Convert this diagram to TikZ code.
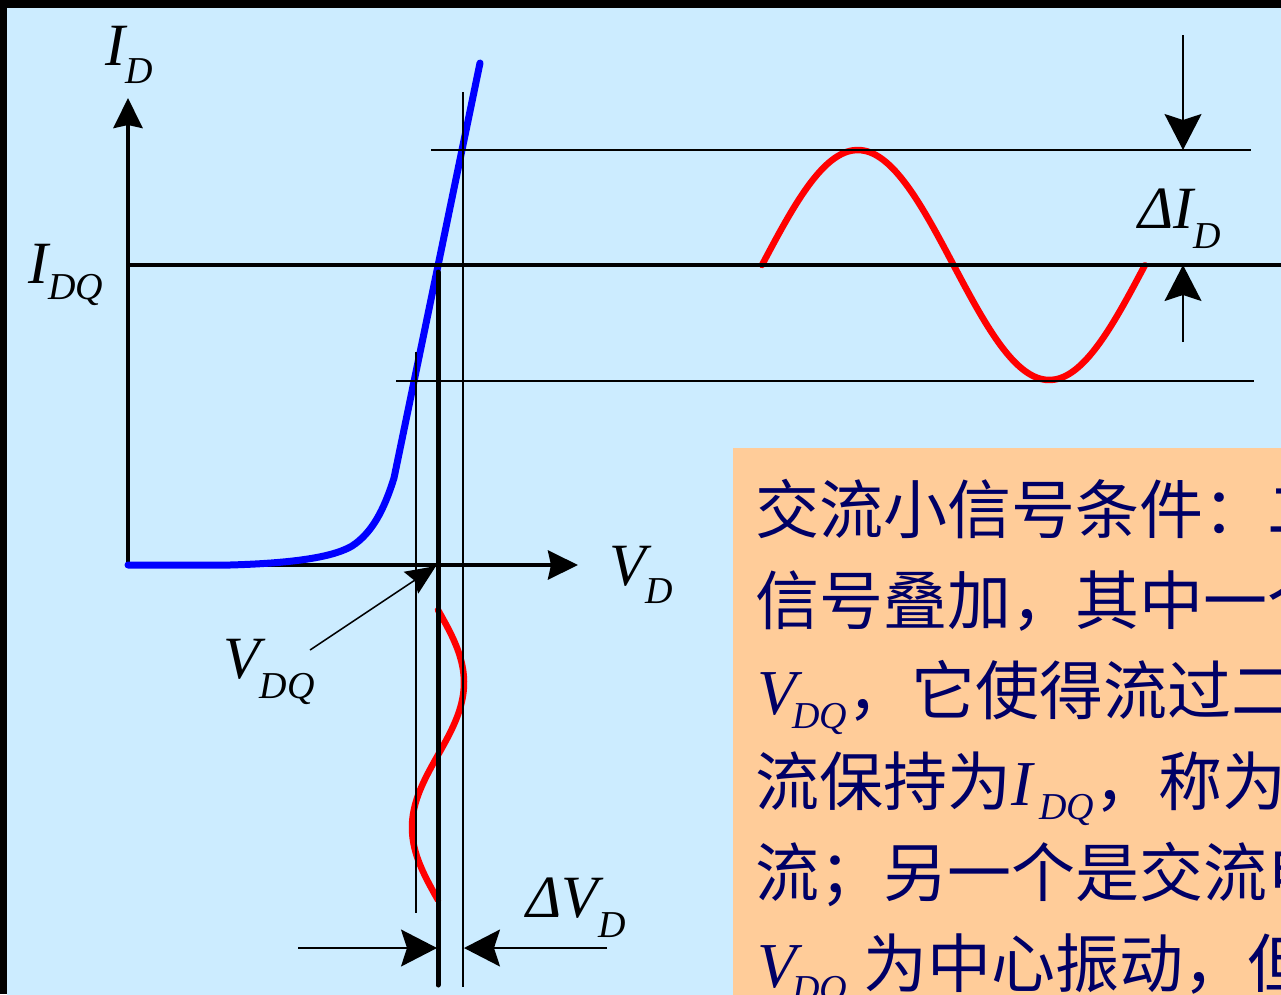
\documentclass[tikz,border=0pt]{standalone}
\usepackage{fontspec}
\setmainfont{Liberation Serif}
\newfontfamily\cjk{Noto Sans CJK SC}
\usetikzlibrary{arrows.meta}
\definecolor{bgblue}{RGB}{204,236,255}
\definecolor{boxorange}{RGB}{255,204,153}
\definecolor{navy}{RGB}{0,0,102}
\definecolor{curveblue}{RGB}{0,0,255}
\definecolor{curvered}{RGB}{255,0,0}
\newcommand{\subtx}[2][18pt]{\raisebox{-#1}{\fontsize{38}{38}\selectfont #2}}
\newcommand{\zh}[1]{{\cjk\upshape #1}}
\tikzset{
  axisline/.style={line width=4pt},
  thinline/.style={line width=1.5pt},
  thickline/.style={line width=5pt, line cap=round},
  bigtip/.style={-{Stealth[length=36pt,width=37pt,inset=6pt]}},
  axistip/.style={-{Stealth[length=30pt,width=29pt,inset=3pt]}},
  ptrtip/.style={-{Stealth[length=30pt,width=26pt,inset=4pt]}},
  lbl/.style={anchor=base west, inner sep=0pt, font=\fontsize{60}{60}\selectfont\itshape},
  txt/.style={anchor=base west, inner sep=0pt, text=navy, font=\fontsize{64}{64}\selectfont\itshape},
  curve/.style={line cap=round, line join=round},
}
\begin{document}
\begin{tikzpicture}[x=1pt,y=-1pt]
\useasboundingbox (0,0) rectangle (1281,994);
\clip (0,0) rectangle (1281,994);
% background
\fill[black] (0,0) rectangle (1281,994);
\fill[bgblue] (7,8) rectangle (1282,995);
\fill[boxorange] (733,448) rectangle (1282,995);

% coordinates
\coordinate (O) at (128,565);
\coordinate (yend) at (128,98);
\coordinate (xend) at (578,565);

% axes
\draw[axisline, axistip] (O) -- (yend);
\draw[axisline, axistip] (O) -- (xend);

% diode characteristic
\draw[curve, line width=7pt, curveblue] (O) -- (230,565) .. controls (300,563) and (335,556) .. (352,546)
   .. controls (372,533) and (384,510) .. (394,478) -- (480,63);

% red signals
\draw[curve, line width=6.5pt, curvered] plot[domain=0:1, samples=90, smooth] ({762+383*\x}, {265-115*sin(360*\x)});
\draw[curve, line width=6.5pt, curvered] plot[domain=0:1, samples=90, smooth] ({438+26*sin(360*\x)}, {610+290*\x});

% thin guide lines
\coordinate (h1a) at (431,150); \coordinate (h1b) at (1251,150);
\coordinate (h2a) at (396,381); \coordinate (h2b) at (1254,381);
\coordinate (v1a) at (463,92);  \coordinate (v1b) at (463,987);
\coordinate (v2a) at (416,352); \coordinate (v2b) at (416,913);
\draw[thinline] (h1a) -- (h1b);
\draw[thinline] (h2a) -- (h2b);
\draw[thinline] (v1a) -- (v1b);
\draw[thinline] (v2a) -- (v2b);

% quiescent lines
\coordinate (qa) at (128,265); \coordinate (qb) at (1282,265);
\draw[axisline] (qa) -- (qb);
\coordinate (qva) at (438,272); \coordinate (qvb) at (438,985);
\draw[thickline] (qva) -- (qvb);

% Delta I_D arrows
\coordinate (di1) at (1183,35);  \coordinate (di1t) at (1183,150);
\coordinate (di2) at (1183,342); \coordinate (di2t) at (1183,265);
\draw[thinline, bigtip] (di1) -- (di1t);
\draw[thinline, bigtip] (di2) -- (di2t);

% Delta V_D arrows
\coordinate (dv1) at (298,948); \coordinate (dv1t) at (437,948);
\coordinate (dv2) at (607,948); \coordinate (dv2t) at (464,948);
\draw[thinline, bigtip] (dv1) -- (dv1t);
\draw[thinline, bigtip] (dv2) -- (dv2t);

% V_DQ pointer
\coordinate (pa) at (310,650); \coordinate (pb) at (436,566);
\draw[thinline, ptrtip] (pa) -- (pb);

% labels
\node[lbl] (lID)  at (105,65)  {I\subtx{D}};
\node[lbl] (lIDQ) at (28,283)  {I\subtx[16pt]{DQ}};
\node[lbl] (lVD)  at (609,585) {V\subtx{D}};
\node[lbl] (lVDQ) at (223,678) {V\subtx[20pt]{DQ}};
\node[lbl] (ldV)  at (526,917) {\symbol{"0394}V\subtx[20pt]{D}};
\node[lbl] (ldI)  at (1138,228) {\symbol{"0394}I\subtx[20pt]{D}};

% text box
\node[txt] (t1) at (755,533) {\zh{交流小信号条件：二极管两端的电压}};
\node[txt] (t2) at (755,624) {\zh{信号叠加，其中一个是直流}};
\node[txt] (t3) at (757,714) {V\kern-4pt\subtx[14pt]{DQ}\zh{，它使得流过二极管}};
\node[txt] (t4) at (755,805) {\zh{流保持为}I\kern7pt\subtx[14pt]{DQ}\zh{，称为静态}};
\node[txt] (t5) at (755,896) {\zh{流；另一个是交流电压}};
\node[txt] (t6) at (757,987) {V\kern-4pt\subtx[14pt]{DQ}\hspace{16pt}\zh{为中心振动，但}};
\end{tikzpicture}
\end{document}
